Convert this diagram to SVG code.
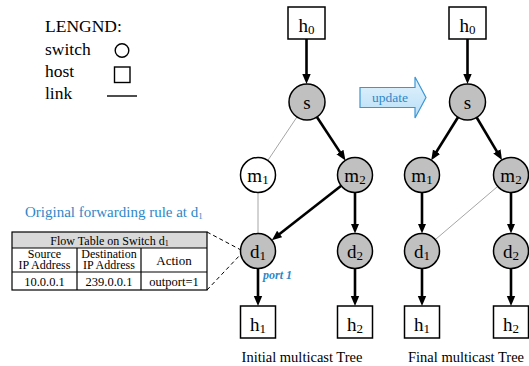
<svg xmlns="http://www.w3.org/2000/svg" width="529" height="366" viewBox="0 0 529 366" font-family="'Liberation Serif', 'Times New Roman', serif">
<style>
text{font-family:"Liberation Serif","Times New Roman",serif;fill:#000}
.sw{fill:#c0c0c0;stroke:#000;stroke-width:1.5}
.hb{fill:#fff;stroke:#000;stroke-width:1.5}
.lbl{font-size:19px;text-anchor:middle}
.sub{font-size:13px}
.ar{stroke:#000;stroke-width:2.6;fill:none;marker-end:url(#ah)}
.thin{stroke:#a6a6a6;stroke-width:1;fill:none}
.tb{fill:none;stroke:#000;stroke-width:1.2}
.tt{text-anchor:middle}
.blue{fill:#2e87c8}
</style>
<defs>
<marker id="ah" markerUnits="userSpaceOnUse" markerWidth="11" markerHeight="10" viewBox="0 0 11 10" refX="1" refY="5" orient="auto">
<path d="M0,0.8 L10,5 L0,9.2 z" fill="#000"/>
</marker>
<linearGradient id="ug" x1="0" y1="0" x2="0" y2="1">
<stop offset="0" stop-color="#e3f3fd"/>
<stop offset="1" stop-color="#b9def7"/>
</linearGradient>
</defs>

<g id="legend">
<text x="45" y="32" font-size="17.5">LENGND:</text>
<text x="45" y="55" font-size="17.5">switch</text>
<text x="45" y="77" font-size="17.5">host</text>
<text x="45" y="99" font-size="17.5">link</text>
<circle cx="122" cy="50.5" r="6.8" fill="#fff" stroke="#000" stroke-width="1.4"/>
<rect x="114.5" y="67" width="15.5" height="15.5" fill="#fff" stroke="#000" stroke-width="1.4"/>
<line x1="107" y1="96" x2="137" y2="96" stroke="#000" stroke-width="1.4"/>
</g>

<g id="rule-label">
<text x="25" y="216.5" font-size="15" class="blue">Original forwarding rule at d<tspan font-size="9" dy="2">1</tspan></text>
</g>

<g id="flow-table">
<rect x="12" y="232" width="195" height="16" fill="#d9d9d9"/>
<rect x="12" y="232" width="195" height="58" class="tb"/>
<line x1="12" y1="248" x2="207" y2="248" class="tb"/>
<line x1="12" y1="272" x2="207" y2="272" class="tb"/>
<line x1="77" y1="248" x2="77" y2="290" class="tb"/>
<line x1="141" y1="248" x2="141" y2="290" class="tb"/>
<text x="109.5" y="244.5" class="tt" font-size="12">Flow Table on Switch d<tspan font-size="8" dy="1">1</tspan></text>
<text x="44.5" y="257.5" class="tt" font-size="12"><tspan x="44.5">Source</tspan><tspan x="44.5" dy="11">IP Address</tspan></text>
<text x="109" y="257.5" class="tt" font-size="12"><tspan x="109">Destination</tspan><tspan x="109" dy="11">IP Address</tspan></text>
<text x="174" y="264.5" class="tt" font-size="13">Action</text>
<text x="44.5" y="285.5" class="tt" font-size="12.5">10.0.0.1</text>
<text x="109" y="285.5" class="tt" font-size="12.5">239.0.0.1</text>
<text x="174" y="285.5" class="tt" font-size="12.5">outport=1</text>
<line x1="207" y1="232" x2="241" y2="250" stroke="#000" stroke-width="1" stroke-dasharray="4,3"/>
<line x1="207" y1="290" x2="241" y2="254" stroke="#000" stroke-width="1" stroke-dasharray="4,3"/>
</g>

<g id="update-arrow">
<path d="M360,87.5 L415,87.5 L415,77 L426,97.5 L415,118 L415,107.5 L360,107.5 z" fill="url(#ug)" stroke="#3b96d6" stroke-width="1.2"/>
<text x="390" y="101.5" font-size="13.5" text-anchor="middle" class="blue">update</text>
</g>

<g id="connectors">
<line x1="306.5" y1="39" x2="306.5" y2="75" class="ar"/>
<line x1="316.9" y1="117" x2="340.5" y2="152.9" class="ar"/>
<line x1="297" y1="116.9" x2="267.8" y2="160.5" class="thin"/>
<line x1="258" y1="192.5" x2="258" y2="233.5" class="thin"/>
<line x1="341.2" y1="185.8" x2="278.9" y2="234.6" class="ar"/>
<line x1="355" y1="192.5" x2="355" y2="224.5" class="ar"/>
<line x1="258" y1="268.5" x2="258" y2="297" class="ar"/>
<line x1="355" y1="268.5" x2="355" y2="297" class="ar"/>
<line x1="467.5" y1="39" x2="467.5" y2="75" class="ar"/>
<line x1="458" y1="117.3" x2="436" y2="152.5" class="ar"/>
<line x1="476.7" y1="117.5" x2="497.4" y2="152.3" class="ar"/>
<line x1="422" y1="192.5" x2="422" y2="224.5" class="ar"/>
<line x1="511" y1="192.5" x2="511" y2="224.5" class="ar"/>
<line x1="497.7" y1="186.4" x2="435.3" y2="239.6" class="thin"/>
<line x1="422" y1="268.5" x2="422" y2="297" class="ar"/>
<line x1="511" y1="268.5" x2="511" y2="297" class="ar"/>
</g>

<g id="port-label">
<text x="263" y="278.5" font-size="12" font-style="italic" font-weight="bold" class="blue">port 1</text>
</g>

<g id="h0-initial"><rect x="288" y="7" width="37" height="32" class="hb"/><text x="306.5" y="32" class="lbl">h<tspan class="sub" dy="2">0</tspan></text></g>
<g id="s-initial"><circle cx="307" cy="102" r="18" class="sw"/><text x="307" y="108.5" class="lbl">s</text></g>
<g id="m1-initial"><circle cx="258" cy="175" r="17.5" fill="#fff" stroke="#000" stroke-width="1.5"/><text x="258" y="181.5" class="lbl">m<tspan class="sub" dy="2">1</tspan></text></g>
<g id="m2-initial"><circle cx="355" cy="175" r="17.5" class="sw"/><text x="355" y="181.5" class="lbl">m<tspan class="sub" dy="2">2</tspan></text></g>
<g id="d1-initial"><circle cx="258" cy="251" r="17.5" class="sw"/><text x="258" y="257.5" class="lbl">d<tspan class="sub" dy="2">1</tspan></text></g>
<g id="d2-initial"><circle cx="355" cy="251" r="17.5" class="sw"/><text x="355" y="257.5" class="lbl">d<tspan class="sub" dy="2">2</tspan></text></g>
<g id="h1-initial"><rect x="240.5" y="306" width="35" height="32" class="hb"/><text x="258" y="331" class="lbl">h<tspan class="sub" dy="2">1</tspan></text></g>
<g id="h2-initial"><rect x="337.5" y="306" width="35" height="32" class="hb"/><text x="355" y="331" class="lbl">h<tspan class="sub" dy="2">2</tspan></text></g>

<g id="h0-final"><rect x="449" y="7" width="37" height="32" class="hb"/><text x="467.5" y="32" class="lbl">h<tspan class="sub" dy="2">0</tspan></text></g>
<g id="s-final"><circle cx="467.5" cy="102" r="18" class="sw"/><text x="467.5" y="108.5" class="lbl">s</text></g>
<g id="m1-final"><circle cx="422" cy="175" r="17.5" class="sw"/><text x="422" y="181.5" class="lbl">m<tspan class="sub" dy="2">1</tspan></text></g>
<g id="m2-final"><circle cx="511" cy="175" r="17.5" class="sw"/><text x="511" y="181.5" class="lbl">m<tspan class="sub" dy="2">2</tspan></text></g>
<g id="d1-final"><circle cx="422" cy="251" r="17.5" class="sw"/><text x="422" y="257.5" class="lbl">d<tspan class="sub" dy="2">1</tspan></text></g>
<g id="d2-final"><circle cx="511" cy="251" r="17.5" class="sw"/><text x="511" y="257.5" class="lbl">d<tspan class="sub" dy="2">2</tspan></text></g>
<g id="h1-final"><rect x="404.5" y="306" width="35" height="32" class="hb"/><text x="422" y="331" class="lbl">h<tspan class="sub" dy="2">1</tspan></text></g>
<g id="h2-final"><rect x="493.5" y="306" width="35" height="32" class="hb"/><text x="511" y="331" class="lbl">h<tspan class="sub" dy="2">2</tspan></text></g>

<g id="captions">
<text x="302" y="362" font-size="14.5" text-anchor="middle">Initial multicast Tree</text>
<text x="466" y="362" font-size="14.5" text-anchor="middle">Final multicast Tree</text>
</g>
</svg>
